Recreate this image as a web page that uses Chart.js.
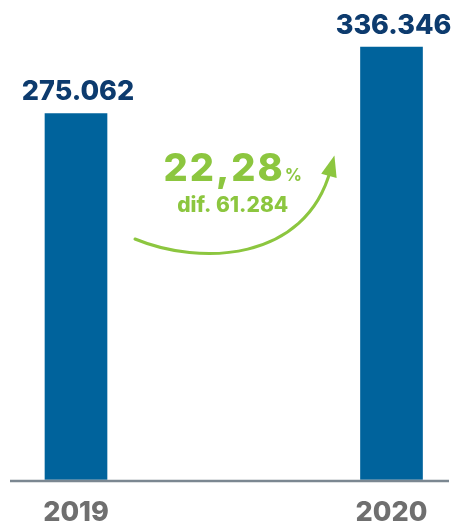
<!DOCTYPE html>
<html>
<head>
<meta charset="utf-8">
<script src="https://cdn.jsdelivr.net/npm/chart.js@4"></script>
<style>
  html, body { margin: 0; padding: 0; background: #fff; }
  #contenedor { width: 453px; height: 528px; position: relative; }
</style>
</head>
<body>
<div id="contenedor"><canvas id="myChart-Crecimiento"></canvas></div>
<script>
const anios = ['2019', '2020'];
const totales = [275062, 336346];
const rangoEje = [-63500, 380000]; // el eje no arranca en cero

const FUENTE = 'Inter, "Noto Sans", sans-serif';

// 275062 -> "275.062"
function miles(n) {
    return String(n).replace(/\B(?=(\d{3})+(?!\d))/g, '.');
}

// Línea base, valores sobre las barras y flecha de variación
const etiquetas = {
    id: 'etiquetas',
    afterDatasetsDraw(chart) {
        const ctx = chart.ctx;
        const area = chart.chartArea;
        const barras = chart.getDatasetMeta(0).data;
        const yBase = chart.scales.y.getPixelForValue(rangoEje[0]);

        ctx.save();
        ctx.strokeStyle = '#7b8791';
        ctx.lineWidth = 2.5;
        ctx.beginPath();
        ctx.moveTo(10, yBase + 1.5);
        ctx.lineTo(chart.width - 4, yBase + 1.5);
        ctx.stroke();

        ctx.fillStyle = '#0d3b6e';
        ctx.font = '800 27px ' + FUENTE;
        ctx.textAlign = 'center';
        ctx.textBaseline = 'alphabetic';
        barras.forEach((b, i) => ctx.fillText(miles(totales[i]), b.x + 2, b.y - 13));

        // variación entre los dos años
        const dif = totales[1] - totales[0];
        const pct = (dif / totales[0] * 100).toFixed(2).replace('.', ',');
        const cx = (barras[0].x + barras[1].x) / 2 - 1;
        ctx.fillStyle = '#8cc63f';
        ctx.textAlign = 'left';
        ctx.font = '800 38px ' + FUENTE;
        ctx.letterSpacing = '2px';
        const w1 = ctx.measureText(pct).width;
        ctx.letterSpacing = '0px';
        ctx.font = 'bold 17px ' + FUENTE;
        const w2 = ctx.measureText('%').width;
        const x0 = cx - (w1 + w2) / 2;
        ctx.font = '800 38px ' + FUENTE;
        ctx.letterSpacing = '2px';
        ctx.fillText(pct, x0, area.top + 181);
        ctx.letterSpacing = '0px';
        ctx.font = 'bold 17px ' + FUENTE;
        ctx.fillText('%', x0 + w1, area.top + 181);
        ctx.font = '800 21px ' + FUENTE;
        ctx.textAlign = 'center';
        ctx.fillText('dif. ' + miles(dif), cx, area.top + 212);

        // flecha curva
        const p0 = [barras[0].x + 59, area.top + 239];
        const p1 = [barras[0].x + 124, area.top + 266];
        const p2 = [barras[1].x - 86, area.top + 262];
        const p3 = [barras[1].x - 61, area.top + 170];
        ctx.strokeStyle = '#8cc63f';
        ctx.lineWidth = 3;
        ctx.lineCap = 'round';
        ctx.beginPath();
        ctx.moveTo(p0[0], p0[1]);
        ctx.bezierCurveTo(p1[0], p1[1], p2[0], p2[1], p3[0], p3[1]);
        ctx.stroke();
        const dx = p3[0] - p2[0], dy = p3[1] - p2[1];
        const len = Math.hypot(dx, dy);
        const ux = dx / len, uy = dy / len;
        const tip = [p3[0] + ux * 15, p3[1] + uy * 15];
        const bx = tip[0] - ux * 21, by = tip[1] - uy * 21;
        ctx.beginPath();
        ctx.moveTo(tip[0], tip[1]);
        ctx.lineTo(bx - uy * 8, by + ux * 8);
        ctx.lineTo(bx + uy * 8, by - ux * 8);
        ctx.closePath();
        ctx.fill();
        ctx.restore();
    }
};

document.addEventListener('DOMContentLoaded', function () {
    const ctx = document.getElementById('myChart-Crecimiento');

    new Chart(ctx, {
        type: 'bar',
        data: {
            labels: anios,
            datasets: [{
                data: totales,
                base: rangoEje[0],
                backgroundColor: '#00639c',
                borderWidth: 0,
                barThickness: 62,
                clip: false
            }]
        },
        options: {
            responsive: true,
            maintainAspectRatio: false,
            animation: false,
            layout: { padding: { left: 76, right: 61.5, top: 0, bottom: 1.5 } },
            plugins: {
                legend: { display: false },
                tooltip: { enabled: false }
            },
            scales: {
                x: {
                    offset: false,
                    grid: { display: false, drawTicks: false },
                    border: { display: false },
                    ticks: {
                        color: '#6f6f6f',
                        padding: 20,
                        maxRotation: 0,
                        font: { family: FUENTE, size: 27, weight: '800', lineHeight: 1 }
                    },
                    afterFit: (scale) => { scale.height = 47; }
                },
                y: {
                    display: false,
                    min: rangoEje[0],
                    max: rangoEje[1]
                }
            }
        },
        plugins: [etiquetas]
    });
});
</script>
</body>
</html>
